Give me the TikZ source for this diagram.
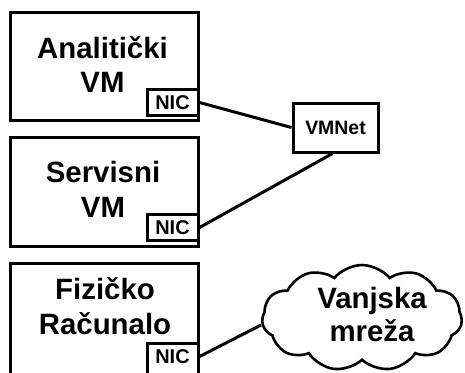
\documentclass[tikz,border=0pt]{standalone}
\usepackage{fontspec}
\setmainfont{Liberation Sans}
\usetikzlibrary{shapes.symbols}
\tikzset{
  hostbox/.style={draw, line width=3bp, minimum width=187bp, inner sep=0pt},
  bigtext/.style={align=center, inner sep=0pt, font=\bfseries\fontsize{29.5}{35}\selectfont},
  nicbox/.style={draw, line width=3bp, anchor=north, minimum width=51bp, inner xsep=0pt,
    inner ysep=5.85bp, text height=14.3bp, text depth=0bp, font=\bfseries\fontsize{20}{22}\selectfont},
  netbox/.style={draw, line width=3bp, minimum width=85bp, minimum height=49bp, inner sep=0pt,
    font=\bfseries\fontsize{19.5}{22}\selectfont},
  netcloud/.style={cloud, draw, line width=2.6bp, cloud puffs=11, cloud puff arc=100, aspect=2,
    minimum width=200bp, minimum height=106bp, inner sep=0pt},
  link/.style={line width=3bp}
}
\begin{document}
\begin{tikzpicture}[x=1bp,y=-1bp]
\useasboundingbox (0,0) rectangle (465,372);
\clip (0,0) rectangle (465,372);
% host boxes
\node[hostbox, minimum height=108bp] (vm1) at (104.5,66) {};
\node[hostbox, minimum height=109bp] (vm2) at (104.5,191.5) {};
\node[hostbox, minimum height=127bp] (pc) at (104.5,326.5) {};
\node[bigtext] (vm1t) at (102.5,64.5) {Analitički\\VM};
\node[bigtext] (vm2t) at (103,189.5) {Servisni\\VM};
\node[bigtext] (pct) at (105,306.5) {Fizičko\\Računalo};
% NICs
\node[nicbox] (nic1) at (172.5,88) {NIC};
\node[nicbox] (nic2) at (172.5,213) {NIC};
\node[nicbox, text depth=14bp] (nic3) at (172.5,342) {NIC};
% networks
\node[netbox] (vmnet) at (335.5,127.5) {VMNet};
\node[netcloud] (cloud) at (362,318) {};
\node[bigtext, font=\bfseries\fontsize{29.5}{34}\selectfont] (cloudt) at (372,314.5) {Vanjska\\mreža};
% links
\draw[link] (nic1.east) -- (vmnet.west);
\draw[link] (nic2.east) -- ([xshift=-3bp]vmnet.south);
\draw[link] ([yshift=7bp]nic3.east) -- ([yshift=-7bp]cloud.west);
\end{tikzpicture}
\end{document}
